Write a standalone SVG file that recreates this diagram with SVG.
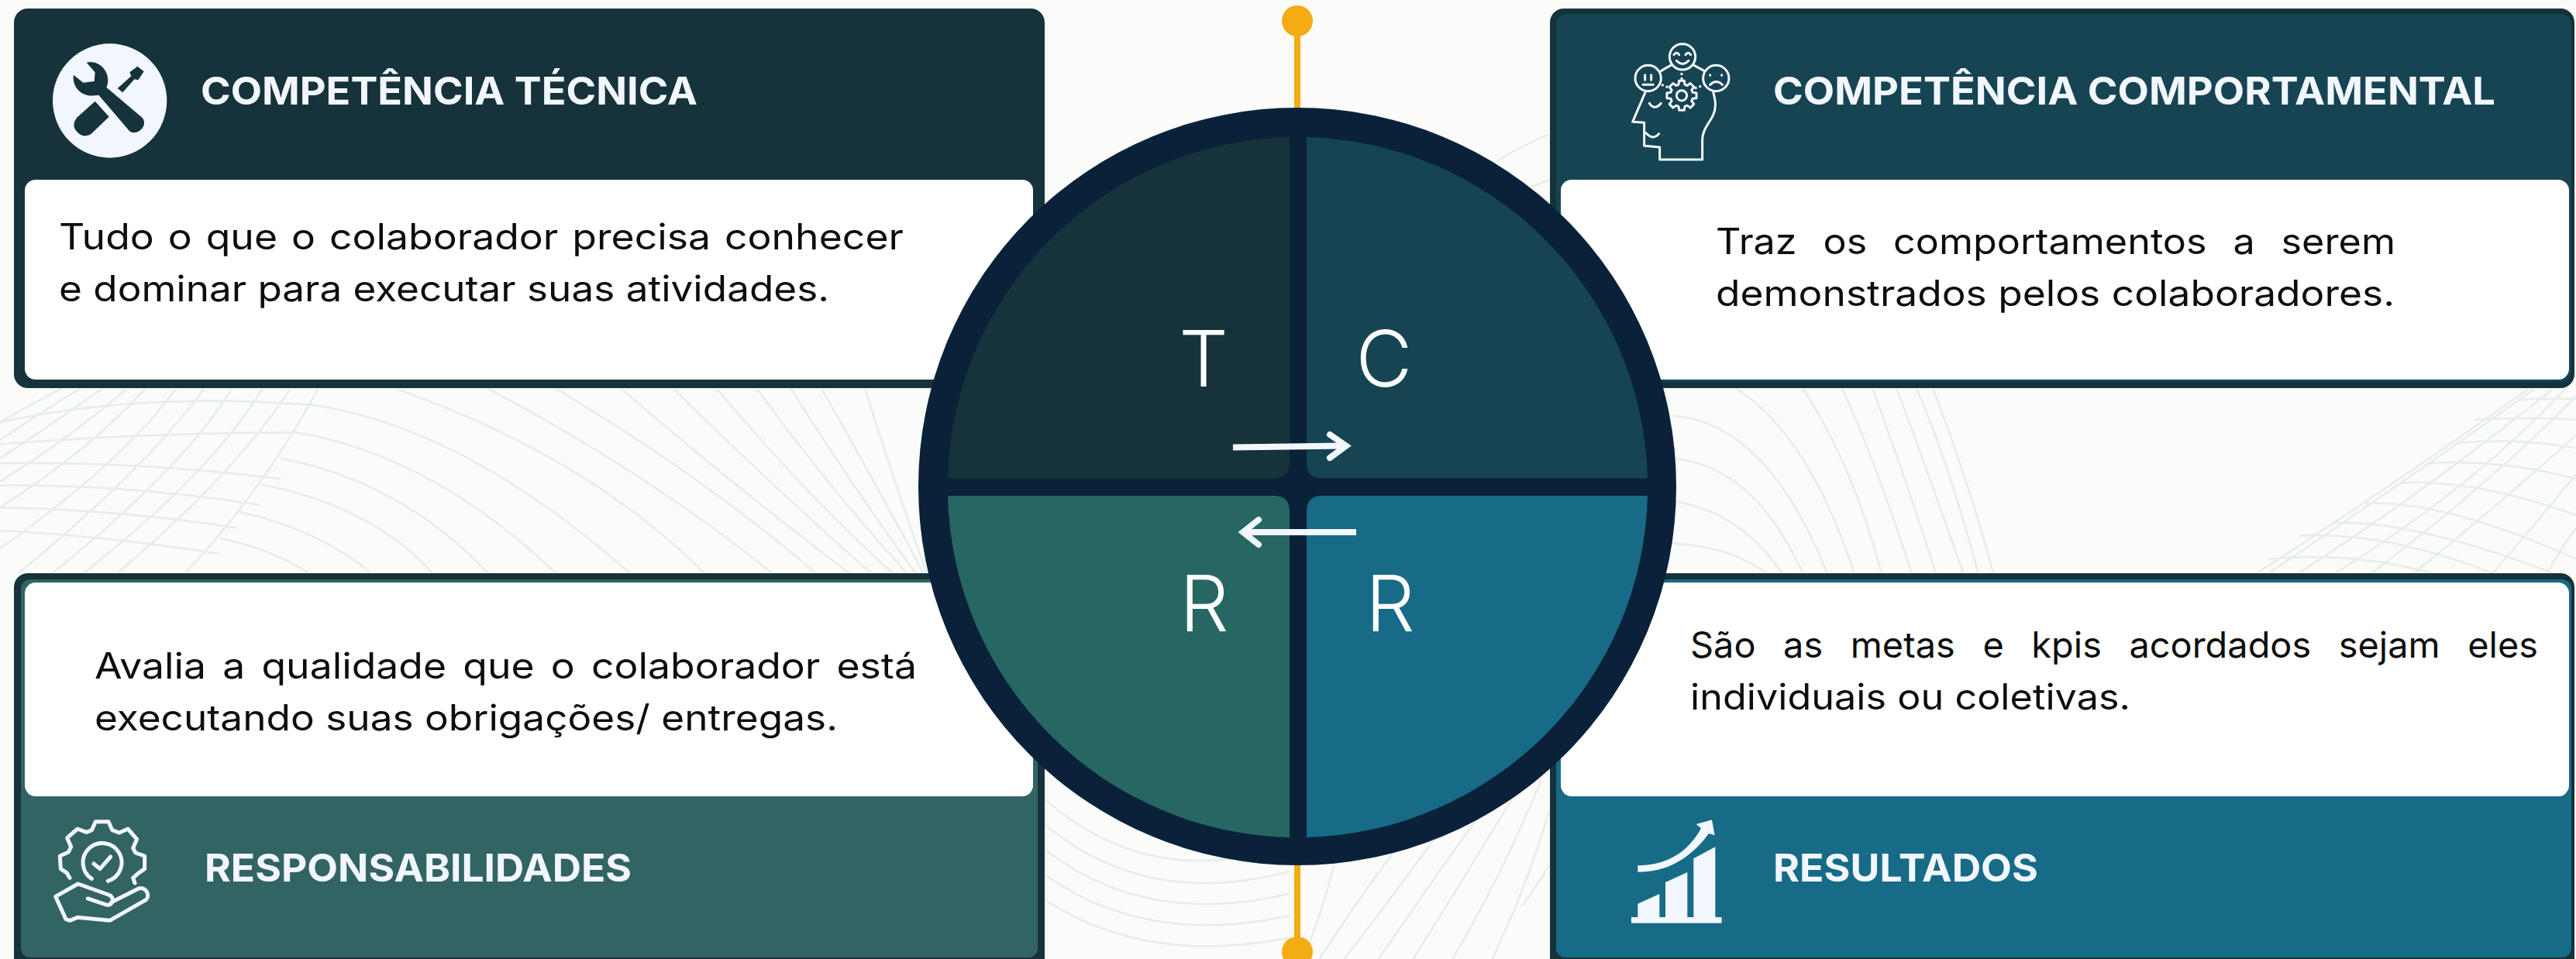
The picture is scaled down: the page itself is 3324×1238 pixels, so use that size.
<svg xmlns="http://www.w3.org/2000/svg" width="3324" height="1238" viewBox="0 0 3324 1238">
<defs>
<style>
.bg{fill:none;stroke:#E4EDEA;stroke-width:2.5;vector-effect:non-scaling-stroke}
.h{font-family:"Inter","Liberation Sans",sans-serif;font-weight:700;font-size:50px;fill:#F2F7FF}
.b{font-family:"Inter","Liberation Sans",sans-serif;font-weight:400;font-size:46px;fill:#0D0D0D}
.l{font-family:"Inter","Liberation Sans",sans-serif;font-weight:300;font-size:100px;fill:#FFFFFF}
.ic{fill:none;stroke:#F2F7FF;stroke-linecap:round;stroke-linejoin:round}
.o{stroke:#F4AC14;stroke-width:8;fill:none}
.d{fill:#F4AC14}
.ar{fill:none;stroke:#F2F7FF;stroke-width:8}
.ah{fill:none;stroke:#F2F7FF;stroke-width:8;stroke-linecap:round;stroke-linejoin:miter}
</style>
</defs>
<rect width="3324" height="1238" fill="#FBFBF9"/>
<g id="background">
<g transform="translate(0,495) scale(0.7972,0.3333)">
<path class="bg" d="M640,20Q950,280 1140,735M790,20Q1050,350 1250,735M900,20Q1150,380 1320,735M1005,20Q1200,420 1375,735M1090,20Q1260,420 1410,735M1160,20Q1300,420 1445,735M1225,20Q1340,400 1468,735M1280,20Q1380,400 1482,735M1330,20Q1420,400 1495,735M1400,20Q1450,400 1500,735"/>
<path class="bg" d="M510,85Q750,170 1020,735M480,190Q700,280 900,735M455,290Q650,380 790,735M420,390Q600,470 700,735M385,495Q520,570 600,735M355,600Q440,640 500,735"/>
<path class="bg" d="M515,20Q430,400 300,735M470,20Q380,350 190,735M425,20Q340,350 135,735M375,20Q300,320 85,735M330,20Q240,320 30,735M285,20Q200,300 0,640M235,20Q150,250 0,480M205,20Q120,200 0,380M165,20Q90,150 0,290M130,20Q60,120 0,220M100,20Q50,80 0,150"/>
<path class="bg" d="M0,150Q230,30 510,85M0,235Q250,190 480,190M0,310Q230,300 455,370M0,395Q200,390 420,470M0,480Q200,490 385,560M0,570Q170,590 355,660"/>
</g>
<g transform="translate(2100,495) scale(0.7806,0.3333)">
<path class="bg" d="M180,20Q300,200 375,735M290,20Q370,300 420,735M355,20Q410,300 470,735M405,20Q450,300 510,735M445,20Q490,300 555,735M478,20Q530,300 580,735M505,20Q560,350 605,735"/>
<path class="bg" d="M75,125Q230,150 330,735M75,290Q210,320 290,735M75,455Q190,500 255,735M75,620Q170,630 230,735"/>
<path class="bg" d="M1490,20Q1250,420 1040,735M1500,20Q1260,420 1060,735M1530,20Q1330,400 1110,735M1550,20Q1400,400 1170,735M1568,50Q1420,400 1230,735M1568,200Q1450,450 1300,735M1568,350Q1500,550 1430,735M1568,560Q1540,650 1520,735"/>
<path class="bg" d="M1470,65Q1520,55 1568,60M1400,140Q1500,130 1568,140M1370,230Q1470,210 1568,250M1320,310Q1440,290 1568,370M1280,385Q1400,370 1568,510M1220,465Q1350,450 1568,680M1170,540Q1300,530 1530,735M1110,590Q1250,570 1430,735M1060,680Q1200,650 1330,735"/>
</g>
<g transform="translate(1160,600) scale(0.6378,0.407)">
<path class="bg" d="M295,1060Q500,1350 790,1210M295,1140Q500,1410 790,1290M295,1220Q500,1470 790,1360M295,1300Q500,1530 790,1430M295,1380Q500,1590 790,1500"/>
<path class="bg" d="M1000,1230Q920,1400 850,1568M1090,1170Q1000,1370 900,1568M1170,1120Q1070,1340 970,1568M1240,1060Q1140,1320 1040,1568M1300,1000Q1220,1300 1120,1568M1315,1100Q1270,1340 1200,1568M1315,1270Q1290,1340 1260,1400M880,1270Q860,1400 820,1560"/>
</g>
<g transform="translate(1160,0) scale(0.6378,0.408)">
<path class="bg" d="M1210,510Q1260,460 1315,425M1280,590L1315,570"/>
</g>
</g>
<g id="connectors">
<line class="o" x1="1674" y1="40" x2="1674" y2="145"/>
<line class="o" x1="1674" y1="1110" x2="1674" y2="1215"/>
</g>
<g id="dot-top"><circle class="d" cx="1674" cy="27" r="20"/></g>
<g id="dot-bottom"><circle class="d" cx="1674" cy="1229" r="20"/></g>
<g id="panel-tecnica">
<rect x="18" y="11" width="1330" height="490" rx="18" fill="#16323A"/>
<rect x="32" y="232" width="1301" height="258" rx="14" fill="#FFFFFF"/>
<g transform="translate(50,40) scale(0.3333)">
<circle cx="275" cy="270" r="221" fill="#F2F7FF"/>
<path fill="#16323A" d="M185,122C230,112 268,150 268,190C268,203 265,212 262,218L400,335C418,355 405,385 375,393C360,395 352,390 345,380L232,248C210,252 190,252 170,242C145,228 130,200 135,170L172,200L215,195L218,160Z"/>
<path fill="#16323A" d="M218,272L272,332L205,397C190,410 165,410 150,392C132,375 132,355 148,335Z"/>
<path fill="#16323A" d="M305,222L358,175L352,160L382,137L407,157L385,190L370,187L325,238Z"/>
</g>
<text class="h" x="259" y="135" textLength="641" lengthAdjust="spacingAndGlyphs">COMPETÊNCIA TÉCNICA</text>
<text class="b" x="76" y="322" word-spacing="3" textLength="1090" lengthAdjust="spacingAndGlyphs">Tudo o que o colaborador precisa conhecer</text>
<text class="b" x="76" y="389" textLength="994" lengthAdjust="spacingAndGlyphs">e dominar para executar suas atividades.</text>
</g>
<g id="panel-comportamental">
<rect x="2000" y="11" width="1322" height="490" rx="18" fill="#16323A"/>
<rect x="2008" y="18" width="1310" height="475" rx="14" fill="#164452"/>
<rect x="2014" y="232" width="1301" height="258" rx="14" fill="#FFFFFF"/>
<g transform="translate(2080,40) scale(0.3333)">
<g class="ic" stroke-width="9">
<circle cx="273" cy="100" r="50"/><circle cx="140" cy="183" r="50"/><circle cx="403" cy="183" r="50"/>
<path d="M240,92Q250,78 260,92M285,92Q295,78 305,92M250,115Q273,140 297,115"/>
<path d="M128,170V190M152,170V190M120,208H160M380,170V172M425,170V172M380,208Q403,185 428,208"/>
<path d="M190,155Q205,145 228,133M318,133Q340,145 358,155"/>
<path d="M130,235L80,352L125,355V445L185,450V498H350V420C350,370 400,340 400,290C402,270 395,250 392,235"/>
<path d="M145,280Q165,310 190,280M132,395Q160,425 182,398"/>
<path stroke-dasharray="9 9" stroke-linecap="butt" d="M270,162V192M192,208L226,222M320,222L355,210"/>
<path transform="translate(270,250)" d="M-10.1,-57.1L10.1,-57.1L12.1,-42.3L21.3,-38.5L33.3,-47.5L47.5,-33.3L38.5,-21.3L42.3,-12.1L57.1,-10.1L57.1,10.1L42.3,12.1L38.5,21.3L47.5,33.3L33.3,47.5L21.3,38.5L12.1,42.3L10.1,57.1L-10.1,57.1L-12.1,42.3L-21.3,38.5L-33.3,47.5L-47.5,33.3L-38.5,21.3L-42.3,12.1L-57.1,10.1L-57.1,-10.1L-42.3,-12.1L-38.5,-21.3L-47.5,-33.3L-33.3,-47.5L-21.3,-38.5L-12.1,-42.3Z"/>
<circle cx="270" cy="250" r="20"/>
</g>
</g>
<text class="h" x="2288" y="135" textLength="932" lengthAdjust="spacingAndGlyphs">COMPETÊNCIA COMPORTAMENTAL</text>
<text class="b" x="2214" y="328" word-spacing="18" textLength="877" lengthAdjust="spacingAndGlyphs">Traz os comportamentos a serem</text>
<text class="b" x="2214" y="395" textLength="876" lengthAdjust="spacingAndGlyphs">demonstrados pelos colaboradores.</text>
</g>
<g id="panel-responsabilidades">
<rect x="18" y="740" width="1330" height="530" rx="18" fill="#16323A"/>
<rect x="27" y="748" width="1312" height="488" rx="12" fill="#336464"/>
<rect x="32" y="752" width="1301" height="276" rx="14" fill="#FFFFFF"/>
<g transform="translate(50,1040) scale(0.3333)">
<g class="ic" stroke-width="15">
<path d="M120,280L108,260L85,245L82,195L115,180L125,160L110,125L150,90L185,103L205,95L220,62H270L285,95L312,105L345,90L380,130L365,165L375,183L410,195V245L385,262L365,280L372,300"/>
<path d="M205,283A75,75 0 1 1 268,292"/>
<path d="M213,225L237,245L278,198"/>
<path d="M190,360L265,385C290,385 295,355 270,345L152,303L65,352L105,440L120,445L150,433L275,445L415,365C435,345 410,310 385,322L280,375"/>
</g>
</g>
<text class="h" x="264" y="1138" textLength="551" lengthAdjust="spacingAndGlyphs">RESPONSABILIDADES</text>
<text class="b" x="122" y="876" word-spacing="6" textLength="1061" lengthAdjust="spacingAndGlyphs">Avalia a qualidade que o colaborador está</text>
<text class="b" x="122" y="943" textLength="959" lengthAdjust="spacingAndGlyphs">executando suas obrigações/ entregas.</text>
</g>
<g id="panel-resultados">
<rect x="2000" y="740" width="1322" height="530" rx="18" fill="#16323A"/>
<rect x="2008" y="748" width="1310" height="488" rx="12" fill="#176B87"/>
<rect x="2014" y="752" width="1301" height="276" rx="14" fill="#FFFFFF"/>
<g transform="translate(2080,1040) scale(0.3333)" fill="#F2F7FF">
<rect x="75" y="432" width="350" height="23"/>
<path d="M100,380L184,342V432H100ZM207,297L292,258V432H207ZM316,205L400,160V432H316Z"/>
<path d="M100,232C200,232 290,190 345,88L326,72L387,55L398,115L375,108C300,210 210,257 100,257Z"/>
</g>
<text class="h" x="2288" y="1138" textLength="342" lengthAdjust="spacingAndGlyphs">RESULTADOS</text>
<text class="b" x="2181" y="849" word-spacing="22" textLength="1094" lengthAdjust="spacingAndGlyphs">São as metas e kpis acordados sejam eles</text>
<text class="b" x="2181" y="916" textLength="568" lengthAdjust="spacingAndGlyphs">individuais ou coletivas.</text>
</g>
<g id="matrix">
<circle cx="1674" cy="628" r="489" fill="#0A2239"/>
<g id="quadrant-t">
<path fill="#16323A" d="M1223,617.5A452,452 0 0 1 1664,177V597.5Q1664,617.5 1644,617.5Z"/>
<text class="l" x="1553" y="499" text-anchor="middle">T</text>
</g>
<g id="quadrant-c">
<path fill="#164452" d="M1686,177A452,452 0 0 1 2126,617.5H1706Q1686,617.5 1686,597.5Z"/>
<text class="l" x="1786" y="499" text-anchor="middle">C</text>
</g>
<g id="quadrant-r1">
<path fill="#266763" d="M1223,640H1644Q1664,640 1664,660V1081A452,452 0 0 1 1223,640Z"/>
<text class="l" x="1554" y="815" text-anchor="middle">R</text>
</g>
<g id="quadrant-r2">
<path fill="#176B87" d="M1706,640H2126A452,452 0 0 1 1686,1081V660Q1686,640 1706,640Z"/>
<text class="l" x="1794" y="815" text-anchor="middle">R</text>
</g>
</g>
<g id="arrows">
<path class="ar" d="M1591,577.5L1733,575.5"/>
<path class="ah" d="M1716,561L1737,575.5L1716,591"/>
<path class="ar" d="M1750,687H1608"/>
<path class="ah" d="M1624,671L1604,687L1624,703"/>
</g>
</svg>
